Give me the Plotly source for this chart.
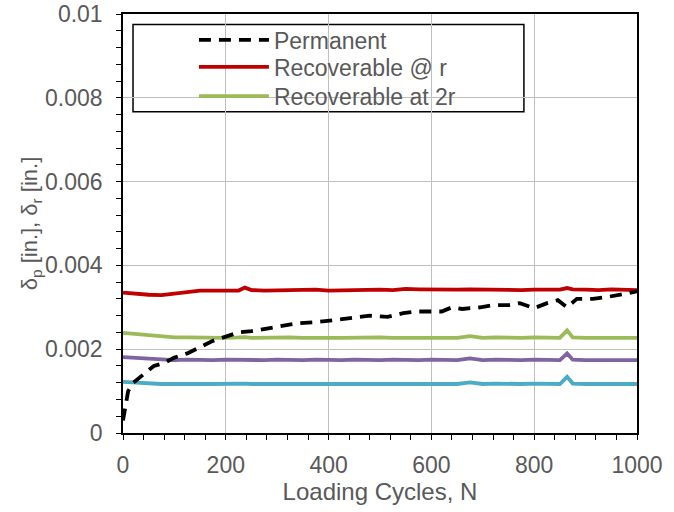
import plotly.graph_objects as go

# ---- data ----
perm_n = [0, 5, 10, 20, 40, 60, 80, 100, 125, 150, 175, 200, 225, 250, 275, 300,
          340, 380, 415, 450, 480, 515, 545, 572, 597, 620, 640, 660, 695, 720,
          750, 772, 800, 825, 846, 864, 883, 914, 944, 970, 1000]
perm_v = [0.0003, 0.0007, 0.0010, 0.0012, 0.0014, 0.0016, 0.00167, 0.0018, 0.0019,
          0.00205, 0.0022, 0.0023, 0.0024, 0.00243, 0.00248, 0.00253, 0.00262,
          0.00265, 0.0027, 0.00275, 0.0028, 0.00277, 0.00286, 0.0029, 0.0029,
          0.0029, 0.0030, 0.00296, 0.0030, 0.00305, 0.00305, 0.0031, 0.00298,
          0.0031, 0.00317, 0.00300, 0.0032, 0.0032, 0.00325, 0.0033, 0.00338]

rec_n = [0, 25, 50, 75, 100, 125, 150, 175, 200, 225, 237, 250, 275, 300, 325, 350,
         375, 400, 425, 450, 475, 500, 525, 550, 575, 600, 625, 650, 675, 700, 725,
         750, 775, 800, 825, 850, 864, 875, 900, 925, 950, 975, 1000]
red_v = [0.00335, 0.00332, 0.0033, 0.00329, 0.00333, 0.00338, 0.0034, 0.0034, 0.00341,
         0.0034, 0.00347, 0.00341, 0.0034, 0.00341, 0.0034, 0.00341, 0.00342, 0.0034,
         0.00341, 0.00342, 0.00341, 0.00342, 0.00341, 0.00344, 0.00343, 0.00342,
         0.00341, 0.00342, 0.00343, 0.00342, 0.00341, 0.00342, 0.00341, 0.00342,
         0.00341, 0.00342, 0.00346, 0.00343, 0.00342, 0.00341, 0.00343, 0.00342, 0.00341]
green_v = [0.00239, 0.00236, 0.00232, 0.00229, 0.00228, 0.00228, 0.00227, 0.00228,
           0.00227, 0.00228, 0.00229, 0.00227, 0.00228, 0.00227, 0.00228, 0.00227,
           0.00228, 0.00227, 0.00227, 0.00228, 0.00227, 0.00228, 0.00227, 0.00227,
           0.00228, 0.00227, 0.00228, 0.00227, 0.00231, 0.00227, 0.00228, 0.00227,
           0.00227, 0.00228, 0.00227, 0.00227, 0.00245, 0.00228, 0.00227, 0.00228,
           0.00227, 0.00227, 0.00227]
purple_v = [0.00181, 0.00179, 0.00176, 0.00174, 0.00174, 0.00175, 0.00174, 0.00174,
            0.00175, 0.00174, 0.00175, 0.00174, 0.00174, 0.00175, 0.00174, 0.00174,
            0.00175, 0.00174, 0.00174, 0.00175, 0.00174, 0.00174, 0.00175, 0.00174,
            0.00174, 0.00175, 0.00174, 0.00174, 0.00178, 0.00174, 0.00175, 0.00174,
            0.00174, 0.00175, 0.00174, 0.00174, 0.0019, 0.00175, 0.00174, 0.00174,
            0.00175, 0.00174, 0.00174]
cyan_v = [0.00122, 0.0012, 0.00118, 0.00117, 0.00117, 0.00118, 0.00117, 0.00117,
          0.00118, 0.00117, 0.00118, 0.00117, 0.00117, 0.00118, 0.00117, 0.00117,
          0.00118, 0.00117, 0.00117, 0.00118, 0.00117, 0.00117, 0.00118, 0.00117,
          0.00117, 0.00118, 0.00117, 0.00117, 0.00121, 0.00117, 0.00118, 0.00117,
          0.00117, 0.00118, 0.00117, 0.00117, 0.00134, 0.00118, 0.00117, 0.00117,
          0.00118, 0.00117, 0.00117]

names = ["Permanent", "Recoverable @ r", "Recoverable at 2r"]
colors = {"black": "#000000", "red": "#C00000", "green": "#9BBB59",
          "purple": "#8064A2", "cyan": "#4BACC6"}

FONT = "Liberation Sans, Arial, sans-serif"
GRAY = "#595959"

fig = go.Figure()
fig.add_trace(go.Scatter(x=rec_n, y=cyan_v, mode="lines", showlegend=False,
                         line=dict(color=colors["cyan"], width=3.8)))
fig.add_trace(go.Scatter(x=rec_n, y=purple_v, mode="lines", showlegend=False,
                         line=dict(color=colors["purple"], width=3.8)))
fig.add_trace(go.Scatter(x=rec_n, y=green_v, mode="lines", name=names[2],
                         line=dict(color=colors["green"], width=3.8), legend="legend3"))
fig.add_trace(go.Scatter(x=rec_n, y=red_v, mode="lines", name=names[1],
                         line=dict(color=colors["red"], width=3.8), legend="legend2"))
fig.add_trace(go.Scatter(x=perm_n, y=perm_v, mode="lines", name=names[0],
                         line=dict(color=colors["black"], width=3.8, dash="12px,8px"),
                         legend="legend"))

axis_common = dict(
    showline=True, linecolor="black", linewidth=1.5, mirror=True,
    ticks="outside", ticklen=5, tickcolor="black", tickwidth=1,
    showgrid=True, gridcolor="#BFBFBF", gridwidth=1, zeroline=False,
    tickfont=dict(family=FONT, size=23, color=GRAY),
    automargin=False, ticklabeloverflow="allow",
)

fig.update_xaxes(range=[0, 1000], dtick=200, tick0=0,
                 title=dict(text="Loading Cycles, N", font=dict(family=FONT, size=24, color=GRAY),
                            standoff=6),
                 minor=dict(dtick=40, ticks="outside", ticklen=5, tickcolor="black", showgrid=False),
                 ticklabelstandoff=6,
                 **axis_common)
fig.update_yaxes(range=[0, 0.01], dtick=0.002, tick0=0,
                 title=dict(text="δ<sub>p</sub> [in.], δ<sub>r</sub> [in.]",
                            font=dict(family=FONT, size=22, color=GRAY), standoff=0),
                 minor=dict(dtick=0.0004, ticks="outside", ticklen=5, tickcolor="black", showgrid=False),
                 ticklabelstandoff=9,
                 **axis_common)

fig.add_shape(type="rect", xref="paper", yref="paper", x0=0.0195, x1=0.780, y0=0.767, y1=0.975,
              line=dict(color="black", width=1.5), fillcolor="white", layer="between")

leg_common = dict(x=0.138, xanchor="left", yanchor="middle",
                  bgcolor="rgba(0,0,0,0)", borderwidth=0,
                  font=dict(family=FONT, size=23, color=GRAY),
                  itemwidth=70)

fig.update_layout(
    width=674, height=512,
    margin=dict(l=123, r=37, t=14, b=79),
    paper_bgcolor="white", plot_bgcolor="white",
    font=dict(family=FONT, color=GRAY),
    legend=dict(y=0.938, **leg_common),
    legend2=dict(y=0.8735, **leg_common),
    legend3=dict(y=0.804, **leg_common),
)

# remove the browser's default 8px page margin so the figure sits at (0, 0)
fig.write_html("out.html", config={"displayModeBar": False},
               post_script="document.body.style.margin='0';")
